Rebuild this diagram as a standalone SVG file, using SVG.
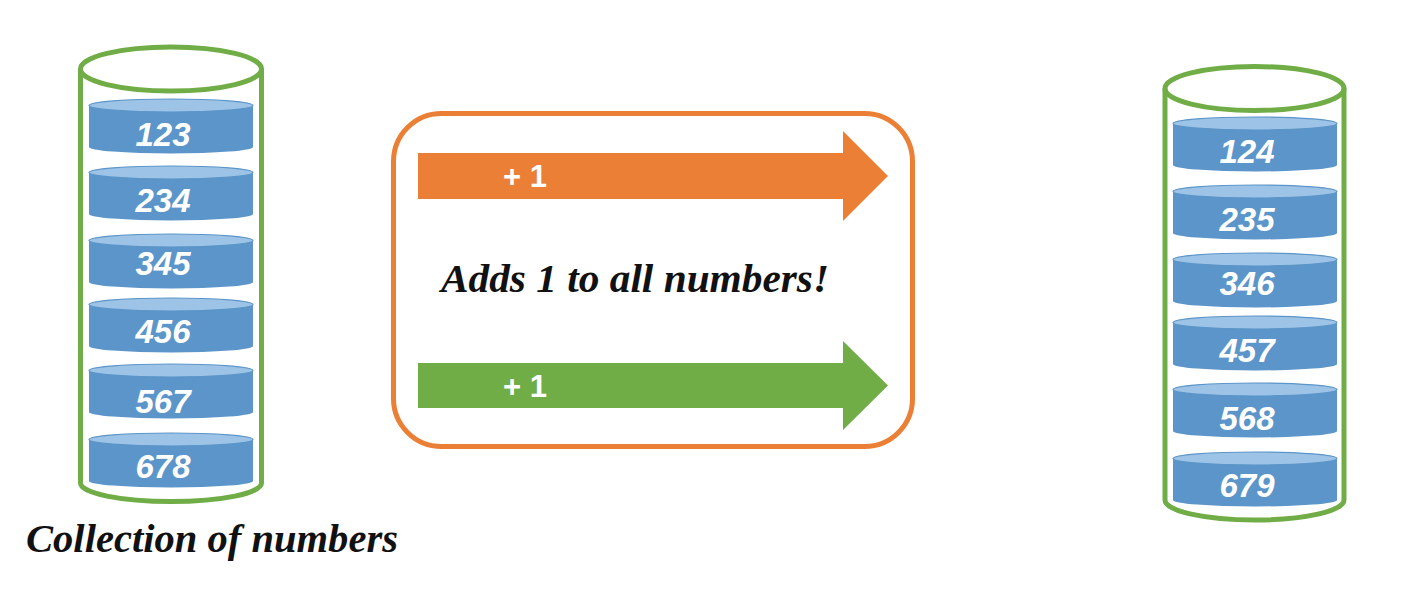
<svg xmlns="http://www.w3.org/2000/svg" xmlns:xlink="http://www.w3.org/1999/xlink" width="1415" height="601" viewBox="0 0 1415 601">
  <style>
    .cyl { fill: none; stroke: #70AD47; stroke-width: 5; }
    .num { font-family: "Liberation Sans", Arial, sans-serif; font-weight: bold; font-style: italic; font-size: 33px; fill: #ffffff; text-anchor: middle; }
    .plus { font-family: "Liberation Sans", Arial, sans-serif; font-weight: bold; font-size: 31px; fill: #ffffff; }
    .label { font-family: "Liberation Serif", "Times New Roman", serif; font-weight: bold; font-style: italic; font-size: 41px; fill: #111111; }
  </style>
  <defs>
    <g id="disk">
      <path d="M -82,6.5 L -82,48 A 82 6.5 0 0 0 82,48 L 82,6.5 Z" fill="#5B95C9"/>
      <ellipse cx="0" cy="6.5" rx="82" ry="6.5" fill="#9DC3E6" stroke="#5B95C9" stroke-width="1.2"/>
    </g>
  </defs>
  <rect width="1415" height="601" fill="#ffffff"/>

  <g id="left-cylinder">
    <ellipse class="cyl" cx="171" cy="69" rx="90.5" ry="22"/>
    <path class="cyl" d="M 80.5,69 L 80.5,483 A 90.5 18.5 0 0 0 261.5,483 L 261.5,69"/>
    <g id="disk-123"><use xlink:href="#disk" href="#disk" x="171" y="99"/><text class="num" x="163" y="146">123</text></g>
    <g id="disk-234"><use xlink:href="#disk" href="#disk" x="171" y="166"/><text class="num" x="163" y="212">234</text></g>
    <g id="disk-345"><use xlink:href="#disk" href="#disk" x="171" y="234"/><text class="num" x="163" y="275">345</text></g>
    <g id="disk-456"><use xlink:href="#disk" href="#disk" x="171" y="298"/><text class="num" x="163" y="343">456</text></g>
    <g id="disk-567"><use xlink:href="#disk" href="#disk" x="171" y="364"/><text class="num" x="163" y="413">567</text></g>
    <g id="disk-678"><use xlink:href="#disk" href="#disk" x="171" y="433"/><text class="num" x="163" y="478">678</text></g>
  </g>

  <g id="left-label">
    <text class="label" x="26" y="552" textLength="372" lengthAdjust="spacingAndGlyphs">Collection of numbers</text>
  </g>

  <g id="operation-box">
    <rect x="393.5" y="113.5" width="519" height="333" rx="48" ry="48" fill="#ffffff" stroke="#EA7F35" stroke-width="5"/>
    <text class="label" x="441" y="292" textLength="388" lengthAdjust="spacingAndGlyphs">Adds 1  to all numbers!</text>
  </g>

  <g id="connectors">
    <g id="orange-arrow">
      <polygon points="418,153 843,153 843,131 888,176 843,221 843,199 418,199" fill="#EA7F35"/>
      <text class="plus" x="503" y="187">+ 1</text>
    </g>
    <g id="green-arrow">
      <polygon points="418,363 843,363 843,341 888,385.5 843,430 843,408 418,408" fill="#70AD47"/>
      <text class="plus" x="503" y="397">+ 1</text>
    </g>
  </g>

  <g id="right-cylinder">
    <ellipse class="cyl" cx="1254.5" cy="88.5" rx="89.5" ry="22"/>
    <path class="cyl" d="M 1165,88.5 L 1165,500 A 89.5 20 0 0 0 1344,500 L 1344,88.5"/>
    <g id="disk-124"><use xlink:href="#disk" href="#disk" x="1255" y="117"/><text class="num" x="1247" y="163">124</text></g>
    <g id="disk-235"><use xlink:href="#disk" href="#disk" x="1255" y="185"/><text class="num" x="1247" y="231">235</text></g>
    <g id="disk-346"><use xlink:href="#disk" href="#disk" x="1255" y="253"/><text class="num" x="1247" y="295">346</text></g>
    <g id="disk-457"><use xlink:href="#disk" href="#disk" x="1255" y="316"/><text class="num" x="1247" y="362">457</text></g>
    <g id="disk-568"><use xlink:href="#disk" href="#disk" x="1255" y="383"/><text class="num" x="1247" y="430">568</text></g>
    <g id="disk-679"><use xlink:href="#disk" href="#disk" x="1255" y="452"/><text class="num" x="1247" y="497">679</text></g>
  </g>
</svg>
